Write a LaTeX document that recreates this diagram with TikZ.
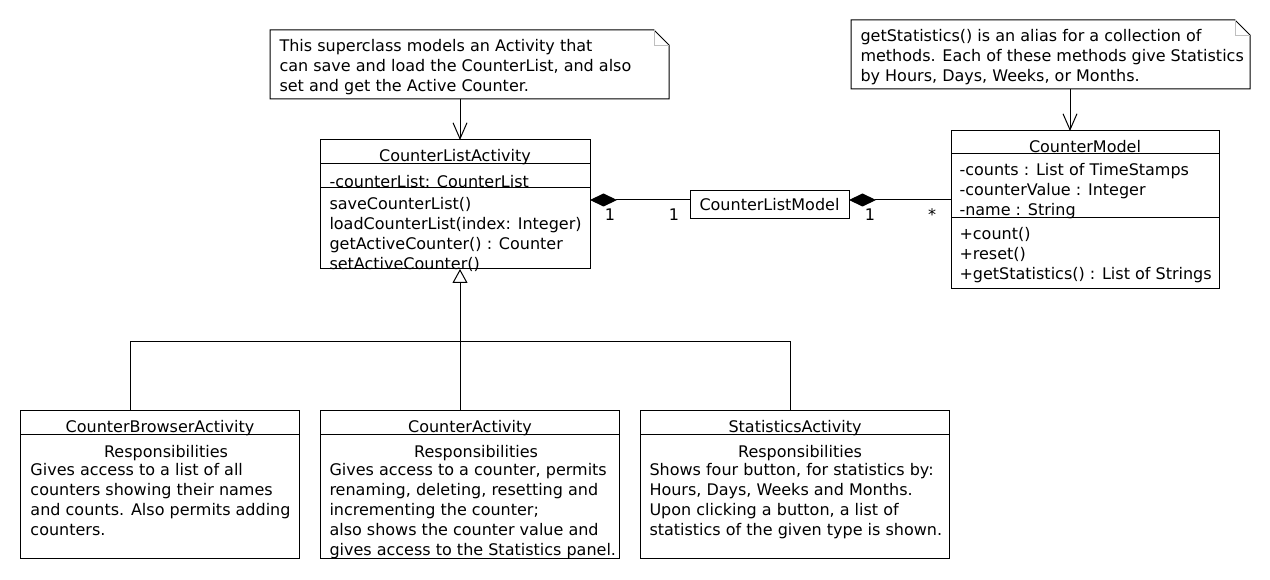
\documentclass[tikz,border=0pt]{standalone}
\usepackage{fontspec}
\setmainfont{DejaVu Sans}
\usetikzlibrary{arrows.meta}

\begin{document}
\begin{tikzpicture}[x=1pt, y=-1pt, line width=1pt,
	txt/.style={font=\fontsize{16}{20}\selectfont, inner sep=0pt, align=left, yshift=-3pt, execute at begin node=\strut},
	mult/.style={font=\fontsize{16}{20}\selectfont, inner sep=0pt},
	box/.style={draw, anchor=north west, inner sep=0pt, outer sep=0pt},
	fold/.style={draw=gray!50, line width=.8pt},
	dep/.style={-{Straight Barb[length=16pt, width=14pt]}},
	gen/.style={-{Triangle[open, length=14pt, width=15pt]}},
	whole/.style={{Diamond[length=27pt, width=13pt]}-}]
	\useasboundingbox[fill=white] (0,0) rectangle (1270,580);
	% notes
	\node[box, draw=none, minimum width=399pt, minimum height=69pt] (n1) at (270,30) {};
	\draw (n1.north west) -- ([xshift=-15pt]n1.north east) -- ([yshift=-15pt]n1.north east) -- (n1.south east) -- (n1.south west) -- cycle;
	\draw[fold] ([xshift=-15pt]n1.north east) |- ([yshift=-15pt]n1.north east);
	\node[txt, anchor=north west] (n1t) at (279,36) {This superclass models an Activity that\\can save and load the CounterList, and also\\set and get the Active Counter.};
	\node[box, draw=none, minimum width=399pt, minimum height=69pt] (n2) at (851,20) {};
	\draw (n2.north west) -- ([xshift=-15pt]n2.north east) -- ([yshift=-15pt]n2.north east) -- (n2.south east) -- (n2.south west) -- cycle;
	\draw[fold] ([xshift=-15pt]n2.north east) |- ([yshift=-15pt]n2.north east);
	\node[txt, anchor=north west] (n2t) at (860,26) {getStatistics() is an alias for a collection of\\methods. Each of these methods give Statistics\\by Hours, Days, Weeks, or Months.};
	% CounterListActivity
	\node[box, minimum width=270pt, minimum height=129pt] (cla) at (320,140) {};
	\draw ([yshift=-24pt]cla.north west) -- ([yshift=-24pt]cla.north east);
	\draw ([yshift=-48pt]cla.north west) -- ([yshift=-48pt]cla.north east);
	\node[txt, anchor=north] (claT) at (455,144) {CounterListActivity};
	\node[txt, anchor=north west] (claA) at (329,170) {-counterList: CounterList};
	\node[txt, anchor=north west] (claM) at (329,194) {saveCounterList()\\loadCounterList(index: Integer)\\getActiveCounter() : Counter\\setActiveCounter()};
	% CounterListModel
	\node[box, minimum width=159pt, minimum height=28pt, font=\fontsize{16}{20}\selectfont] (clm) at (690,191) {CounterListModel};
	% CounterModel
	\node[box, minimum width=268pt, minimum height=158pt] (cm) at (951,131) {};
	\draw ([yshift=-23pt]cm.north west) -- ([yshift=-23pt]cm.north east);
	\draw ([yshift=-87pt]cm.north west) -- ([yshift=-87pt]cm.north east);
	\node[txt, anchor=north] (cmT) at (1085,135) {CounterModel};
	\node[txt, anchor=north west] (cmA) at (959,160) {-counts : List of TimeStamps\\-counterValue : Integer\\-name : String};
	\node[txt, anchor=north west] (cmM) at (959,224) {+count()\\+reset()\\+getStatistics() : List of Strings};
	% subclasses
	\node[box, minimum width=279pt, minimum height=148pt] (cba) at (20,410) {};
	\node[box, minimum width=299pt, minimum height=148pt] (ca) at (320,410) {};
	\node[box, minimum width=309pt, minimum height=148pt] (sa) at (640,410) {};
	\foreach \b in {cba,ca,sa}
		\draw ([yshift=-24pt]\b.north west) -- ([yshift=-24pt]\b.north east);
	\node[txt, anchor=north] (cbaT) at (160,415) {CounterBrowserActivity};
	\node[txt, anchor=north] (cbaR) at (166,440) {Responsibilities};
	\node[txt, anchor=north west] (cbaB) at (30,460) {Gives access to a list of all\\counters showing their names\\and counts. Also permits adding\\counters.};
	\node[txt, anchor=north] (caT) at (470,415) {CounterActivity};
	\node[txt, anchor=north] (caR) at (476,440) {Responsibilities};
	\node[txt, anchor=north west] (caB) at (329,460) {Gives access to a counter, permits\\renaming, deleting, resetting and\\incrementing the counter;\\also shows the counter value and\\gives access to the Statistics panel.};
	\node[txt, anchor=north] (saT) at (795,415) {StatisticsActivity};
	\node[txt, anchor=north] (saR) at (800,440) {Responsibilities};
	\node[txt, anchor=north west] (saB) at (649,460) {Shows four button, for statistics by:\\Hours, Days, Weeks and Months.\\Upon clicking a button, a list of\\statistics of the given type is shown.};
	% connectors
	\coordinate (hub) at (460,341);
	\coordinate (hl) at (130,341);
	\coordinate (hr) at (790,341);
	\draw[dep] (n1.south -| hub) -- (cla.north -| hub);
	\draw[dep] ([xshift=19.5pt]n2.south) -- ([xshift=19.5pt]n2.south |- cm.north);
	\draw[whole] ([yshift=4.5pt]cla.east) -- ([yshift=5pt]clm.west)
		node[mult, at start, xshift=20pt, yshift=-15pt] (m1) {1}
		node[mult, at end, xshift=-16pt, yshift=-15pt] (m2) {1};
	\draw[whole] ([yshift=5pt]clm.east) -- ([yshift=10pt]cm.west)
		node[mult, at start, xshift=21pt, yshift=-15pt] (m3) {1}
		node[mult, at end, xshift=-19pt, yshift=-15pt] (m4) {*};
	\draw[gen] (ca.north -| hub) -- (cla.south -| hub);
	\draw (cba.north -| hl) -- (hl) -- (hr) -- (sa.north -| hr);
\end{tikzpicture}
\end{document}
